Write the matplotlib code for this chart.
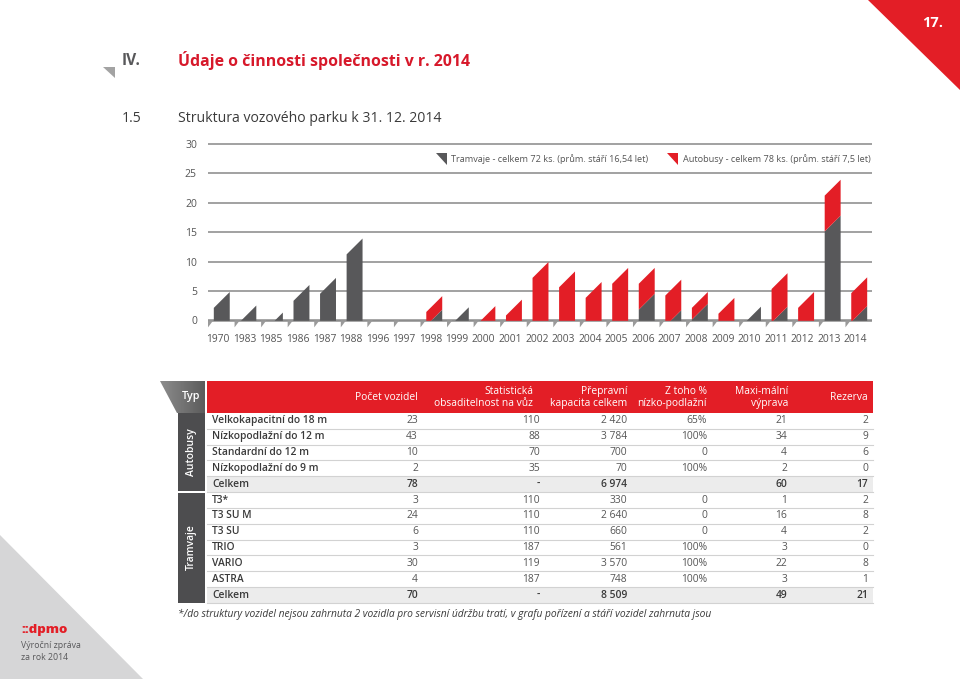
import matplotlib
matplotlib.use('Agg')
import matplotlib.pyplot as plt
from matplotlib.patches import Polygon, Rectangle
import numpy as np

plt.rcParams['font.family'] = ['Open Sans', 'DejaVu Sans']

# ---------------- data ----------------
years = ['1970', '1983', '1985', '1986', '1987', '1988', '1996', '1997', '1998', '1999',
         '2000', '2001', '2002', '2003', '2004', '2005', '2006', '2007', '2008', '2009',
         '2010', '2011', '2012', '2013', '2014']
trams = [4.9, 2.6, 1.4, 6.1, 7.3, 14.0, 0, 0, 1.9, 2.3,
         0, 0, 0, 0, 0, 0, 4.6, 1.8, 2.9, 0,
         2.4, 2.4, 0, 17.9, 2.5]
buses = [0, 0, 0, 0, 0, 0, 0, 0, 2.3, 0,
         2.5, 3.6, 10.0, 8.4, 6.6, 9.0, 4.4, 5.2, 2.0, 3.9,
         0, 5.7, 4.9, 6.1, 4.9]
y_ticks = [0, 5, 10, 15, 20, 25, 30]
legend_tram = 'Tramvaje - celkem 72 ks. (prům. stáří 16,54 let)'
legend_bus = 'Autobusy - celkem 78 ks. (prům. stáří 7,5 let)'

col_headers = ['Počet vozidel', 'Statistická\nobsaditelnost na vůz', 'Přepravní\nkapacita celkem',
               'Z toho %\nnízko-podlažní', 'Maxi-mální\nvýprava', 'Rezerva']
bus_labels = ['Velkokapacitní do 18 m', 'Nízkopodlažní do 12 m', 'Standardní do 12 m',
              'Nízkopodlažní do 9 m', 'Celkem']
bus_values = [['23', '110', '2 420', '65%', '21', '2'],
              ['43', '88', '3 784', '100%', '34', '9'],
              ['10', '70', '700', '0', '4', '6'],
              ['2', '35', '70', '100%', '2', '0'],
              ['78', '-', '6 974', '', '60', '17']]
tram_labels = ['T3*', 'T3 SU M', 'T3 SU', 'TRIO', 'VARIO', 'ASTRA', 'Celkem']
tram_values = [['3', '110', '330', '0', '1', '2'],
               ['24', '110', '2 640', '0', '16', '8'],
               ['6', '110', '660', '0', '4', '2'],
               ['3', '187', '561', '100%', '3', '0'],
               ['30', '119', '3 570', '100%', '22', '8'],
               ['4', '187', '748', '100%', '3', '1'],
               ['70', '-', '8 509', '', '49', '21']]

RED = '#e31e26'
DGRAY = '#58585a'
TXT = '#3a3a3a'

W, H = 960, 679
fig = plt.figure(figsize=(W / 100, H / 100), dpi=100)

# ---------- page overlay axes in pixel coordinates ----------
ax0 = fig.add_axes([0, 0, 1, 1])
ax0.set_xlim(0, W)
ax0.set_ylim(H, 0)
ax0.axis('off')

# corner decorations
ax0.add_patch(Polygon([(868, 0), (960, 0), (960, 90)], closed=True, fc=RED, ec='none'))
ax0.text(933, 23, '17.', color='white', fontsize=10.5, fontweight='bold', ha='center', va='center')
ax0.add_patch(Polygon([(0, 535), (0, 679), (143, 679)], closed=True, fc='#d6d6d7', ec='none'))
ax0.text(21, 630, '::dpmo', color=RED, fontsize=9.5, fontweight='heavy', ha='left', va='center')
ax0.text(21, 646, 'Výroční zpráva', color=DGRAY, fontsize=6.3, ha='left', va='center')
ax0.text(21, 657, 'za rok 2014', color=DGRAY, fontsize=6.3, ha='left', va='center')

# headings
ax0.add_patch(Polygon([(103, 67), (115, 67), (115, 78)], closed=True, fc='#a3a3a3', ec='none'))
ax0.text(122, 61, 'IV.', color=DGRAY, fontsize=11.2, fontweight='bold', ha='left', va='center')
ax0.text(178, 61, 'Údaje o činnosti společnosti v r. 2014', color='#d7182a', fontsize=11.4,
         fontweight='bold', ha='left', va='center')
ax0.text(122, 118, '1.5', color=TXT, fontsize=10.1, ha='left', va='center')
ax0.text(178, 118, 'Struktura vozového parku k 31. 12. 2014', color=TXT, fontsize=10.1,
         ha='left', va='center')

# ---------- table ----------
tx0, tx1 = 207, 873
hy0, hy1 = 381, 413
rh = 15.83
ax0.add_patch(Rectangle((tx0, hy0), tx1 - tx0, hy1 - hy0, fc=RED, ec='none'))
# Typ cell with gradient
typ_poly = Polygon([(160, hy0), (205, hy0), (205, hy1), (177, hy1)], closed=True,
                   fc='none', ec='none')
ax0.add_patch(typ_poly)
grad = np.linspace(0.55, 0.36, 64).reshape(1, -1)
im = ax0.imshow(grad, extent=(160, 205, hy1, hy0), cmap='gray', vmin=0, vmax=1,
                aspect='auto', zorder=1)
im.set_clip_path(typ_poly)
ax0.text(200, (hy0 + hy1) / 2, 'Typ', color='white', fontsize=7.8, fontweight='semibold',
         ha='right', va='center', zorder=3)

col_right = [418, 540, 627, 707, 787, 868]
head_right = [418, 533, 627, 707, 788, 868]
for xr, h in zip(head_right, col_headers):
    ax0.text(xr, (hy0 + hy1) / 2 + 0.5, h, color='white', fontsize=7.4, fontweight='medium',
             ha='right', va='center', linespacing=1.05, multialignment='right')

all_labels = bus_labels + tram_labels
all_values = bus_values + tram_values
for k, (lab, vals) in enumerate(zip(all_labels, all_values)):
    y0 = hy1 + k * rh
    yc = y0 + rh / 2
    total = lab == 'Celkem'
    if total:
        ax0.add_patch(Rectangle((tx0, y0), tx1 - tx0, rh, fc='#ececec', ec='none'))
    ax0.plot([tx0, tx1], [y0 + rh, y0 + rh], color='#d2d2d2', lw=0.8)
    ax0.text(212, yc, lab, color=TXT, fontsize=7.35, fontweight='semibold', ha='left', va='center')
    for xr, v in zip(col_right, vals):
        ax0.text(xr, yc, v, color=TXT if total else '#555555', fontsize=7.35,
                 fontweight='semibold' if total else 'normal', ha='right', va='center')

# group columns
nb = len(bus_labels)
nt = len(tram_labels)
ax0.add_patch(Rectangle((178, hy1), 27, nb * rh - 1, fc='#4d4d4f', ec='none'))
ax0.add_patch(Rectangle((178, hy1 + nb * rh + 1), 27, nt * rh - 1, fc='#4d4d4f', ec='none'))
ax0.text(191.5, hy1 + nb * rh / 2, 'Autobusy', color='white', fontsize=7.5, fontweight='semibold',
         rotation=90, ha='center', va='center')
ax0.text(191.5, hy1 + nb * rh + nt * rh / 2, 'Tramvaje', color='white', fontsize=7.5,
         fontweight='semibold', rotation=90, ha='center', va='center')

ax0.text(178, 614, '*/do struktury vozidel nejsou zahrnuta 2 vozidla pro servisní údržbu tratí, '
         'v grafu pořízení a stáří vozidel zahrnuta jsou', color=TXT, fontsize=7.4,
         fontstyle='italic', ha='left', va='center')

# ---------- chart axes ----------
ppu = 5.877           # pixels per unit
y0pix = 320.3         # pixel row of zero
ylo, yhi = -2.0, 30.5
bottom_pix = y0pix - ylo * ppu
top_pix = y0pix - yhi * ppu
ax = fig.add_axes([208 / W, 1 - bottom_pix / H, 664 / W, (bottom_pix - top_pix) / H])
ax.set_facecolor('none')
ax.set_xlim(-0.5, len(years) - 0.5)
ax.set_ylim(ylo, yhi)
for s in ax.spines.values():
    s.set_visible(False)
ax.set_xticks([])
ax.set_yticks(y_ticks)
ax.set_yticklabels([str(t) for t in y_ticks], color='#555555', fontsize=7.5)
ax.tick_params(axis='y', length=0, pad=8)
for t in y_ticks:
    ax.axhline(t, color='#9a9a9a' if t else '#8c8c8c', lw=1.3 if t else 1.8, zorder=1)

BW = 0.6
SL = 2.7
for i, (g, r) in enumerate(zip(trams, buses)):
    xl, xr = i - BW / 2, i + BW / 2
    xs = np.linspace(xl, xr, 80)
    drop = SL * (xr - xs) / BW
    lower = np.clip(g - drop, 0, None)
    upper = np.clip(g + r - drop, 0, None)
    if g > 0:
        ax.fill_between(xs, 0, lower, color=DGRAY, lw=0, zorder=3)
    if r > 0:
        ax.fill_between(xs, lower, upper, color=RED, lw=0, zorder=3)
    ax.add_patch(Polygon([(i - 0.5, 0), (i - 0.3, 0), (i - 0.5, -1.2)], closed=True,
                         fc='#9a9a9a', ec='none', zorder=2, clip_on=False))
    ax.text(i - 0.12, -3.2, years[i], color='#555555', fontsize=7.4, ha='center', va='center',
            clip_on=False)

# legend
ax0.add_patch(Polygon([(436, 153), (447, 153), (447, 165)], closed=True, fc=DGRAY, ec='none'))
ax0.text(451, 159, legend_tram, color='#555555', fontsize=6.6, ha='left', va='center')
ax0.add_patch(Polygon([(667, 153), (678, 153), (678, 165)], closed=True, fc=RED, ec='none'))
ax0.text(683, 159, legend_bus, color='#555555', fontsize=6.6, ha='left', va='center')

fig.savefig('out.png', dpi=100)
